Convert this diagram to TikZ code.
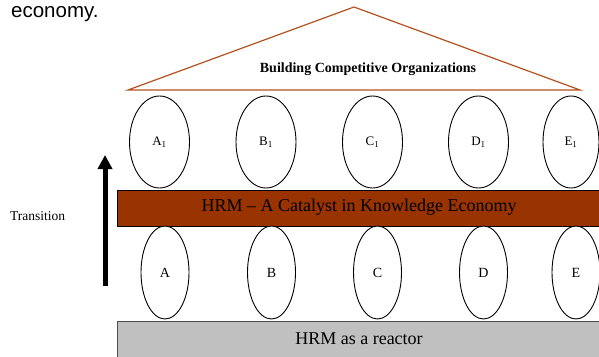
\documentclass[tikz,border=0pt]{standalone}
\usepackage{fontspec}
\setmainfont{Liberation Serif}
\newfontfamily\headsans{Liberation Sans}
\usetikzlibrary{shapes.geometric,arrows.meta}
\definecolor{roofline}{RGB}{180,80,30}
\definecolor{catalyst}{RGB}{153,51,0}
\definecolor{reactor}{RGB}{192,192,192}
\tikzset{
  pillar/.style={ellipse,draw=black,line width=0.9pt,fill=white,inner sep=0pt},
  toppillar/.style={pillar,minimum width=60pt,minimum height=92pt,
    font=\fontsize{13}{15}\selectfont},
  lowpillar/.style={pillar,minimum width=48pt,minimum height=93pt,
    font=\fontsize{14}{16}\selectfont},
  barlabel/.style={font=\fontsize{18}{21}\selectfont,inner sep=0pt},
}
\begin{document}
\begin{tikzpicture}[x=1pt,y=-1pt]
\useasboundingbox (0,0) rectangle (599,356);
\begin{scope}
\clip (0,0) rectangle (599,356);

% heading fragment
\node[anchor=base west,inner sep=0pt,font=\headsans\fontsize{20.5}{24}\selectfont] (head) at (11,17) {economy.};

% roof
\coordinate (roofL) at (128,90);
\coordinate (roofT) at (354,7);
\coordinate (roofR) at (580,90);
\draw[roofline,line width=1.2pt,line join=miter] (roofL) -- (roofT) -- (roofR) -- cycle;
\node[font=\bfseries\fontsize{14}{16}\selectfont,inner sep=0pt] (roof) at (368,69) {Building Competitive Organizations};

% catalyst bar
\draw[black,line width=0.8pt,fill=catalyst] (117,190) rectangle (610,226);
\node[barlabel] (cat) at (359,207) {HRM -- A Catalyst in Knowledge Economy};

% reactor bar
\draw[black!70,line width=0.8pt,fill=reactor] (117,321) rectangle (610,370);
\node[barlabel] (rea) at (359,339) {HRM as a reactor};

% upper pillars
\node[toppillar] (a1) at (159.5,142) {A\textsubscript{1}};
\node[toppillar] (b1) at (266,142) {B\textsubscript{1}};
\node[toppillar] (c1) at (372.5,142) {C\textsubscript{1}};
\node[toppillar] (d1) at (478.5,142) {D\textsubscript{1}};
\node[toppillar,minimum width=56pt] (e1) at (571,142) {E\textsubscript{1}};

% lower pillars
\node[lowpillar] (a) at (165,272.5) {A};
\node[lowpillar] (b) at (271.5,272.5) {B};
\node[lowpillar] (c) at (377.5,272.5) {C};
\node[lowpillar] (d) at (483.5,272.5) {D};
\node[lowpillar] (e) at (576,272.5) {E};

% transition arrow
\coordinate (trBot) at (105,286);
\coordinate (trTop) at (105,155);
\draw[line width=5pt,-{Triangle[length=14pt,width=14pt]}] (trBot) -- (trTop);
\node[anchor=base west,inner sep=0pt,font=\fontsize{13.5}{16}\selectfont] (trans) at (10,220) {Transition};
\end{scope}
\end{tikzpicture}
\end{document}
